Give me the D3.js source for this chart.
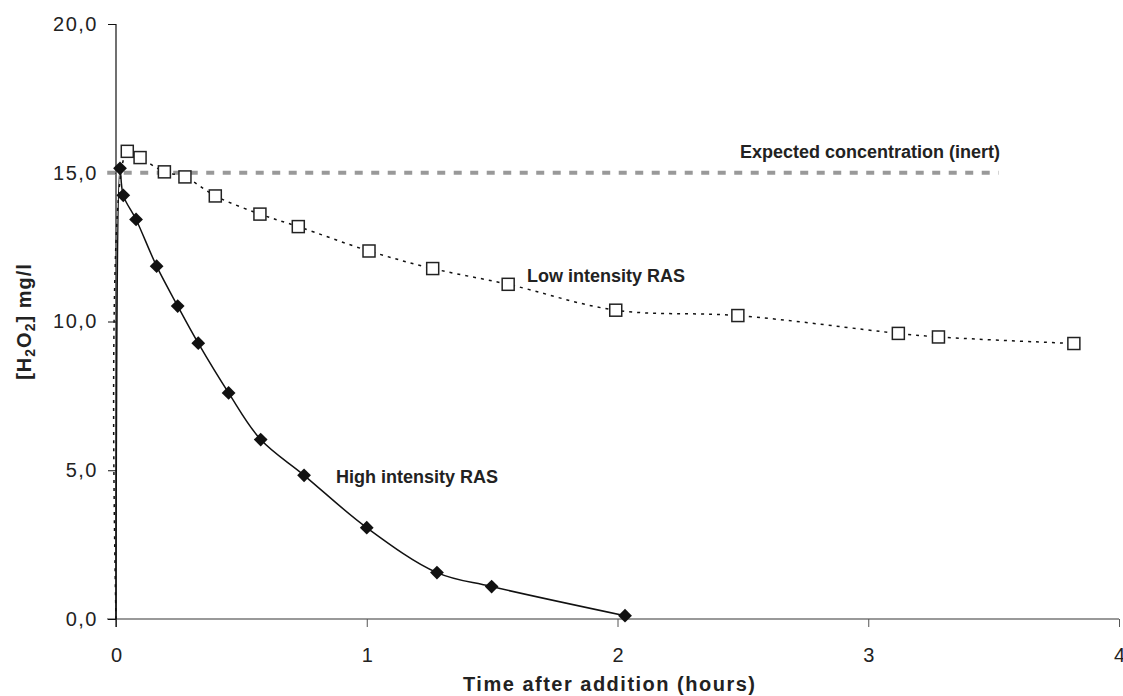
<!DOCTYPE html>
<html>
<head>
<meta charset="utf-8">
<script src="https://cdn.jsdelivr.net/npm/d3@7"></script>
<style>
  body { margin: 0; background: #fff; }
  text { font-family: "Liberation Sans", Arial, Helvetica, sans-serif; fill: #222; }
</style>
</head>
<body>
<svg id="chart"></svg>
<script>
// DATA
/***********************/
var highTime = [0, 0.016, 0.029, 0.08, 0.162, 0.246, 0.328, 0.449, 0.577, 0.75, 1.0, 1.28, 1.498, 2.03];
var highConc = [0, 15.15, 14.24, 13.43, 11.86, 10.52, 9.27, 7.60, 6.03, 4.83, 3.07, 1.56, 1.09, 0.11];

var lowTime = [0, 0.045, 0.096, 0.193, 0.275, 0.396, 0.574, 0.727, 1.009, 1.263, 1.564, 1.993, 2.48, 3.12, 3.28, 3.82];
var lowConc = [0, 15.72, 15.51, 15.03, 14.86, 14.22, 13.61, 13.19, 12.37, 11.78, 11.25, 10.38, 10.2, 9.6, 9.48, 9.26];

var expectedTime = [-0.035, 3.52];
var expectedConc = [15, 15];

var xTicks = [0, 1, 2, 3, 4];
var yTicks = [0, 5, 10, 15, 20];

// LAYOUT
/***********************/
var WIDTH = 1123,
    HEIGHT = 696;
var LEFT = 116, RIGHT = 1119, TOP = 24, BOTTOM = 619;

var x = d3.scaleLinear().domain([0, 4]).range([LEFT, RIGHT]);
var y = d3.scaleLinear().domain([0, 20]).range([BOTTOM, TOP]);

var locale = d3.formatLocale({decimal: ",", thousands: ".", grouping: [3], currency: ["", ""]});
var fmt = locale.format(".1f");

function zip(a, b) {
  return a.map(function(d, i) { return [d, b[i]]; });
}

var svg = d3.select("#chart")
    .attr("width", WIDTH)
    .attr("height", HEIGHT);

// axes
var xAxis = svg.append("g")
    .attr("transform", "translate(0," + BOTTOM + ")")
    .call(d3.axisBottom(x).tickValues(xTicks).tickSize(8).tickPadding(21).tickFormat(d3.format("d")));
xAxis.select(".domain").attr("stroke", "#777").attr("stroke-width", 1.5)
    .attr("d", "M" + (LEFT - 9) + ",0H" + RIGHT);
xAxis.selectAll(".tick line").attr("stroke", "#555");
xAxis.selectAll("text")
    .style("font-size", "20px")
    .attr("fill", "#222");

var yAxis = svg.append("g")
    .attr("transform", "translate(" + LEFT + ",0)")
    .call(d3.axisLeft(y).tickValues(yTicks).tickSize(8).tickPadding(10).tickFormat(fmt));
yAxis.select(".domain").attr("stroke", "#111").attr("stroke-width", 1.2)
    .attr("d", "M0," + TOP + "V" + (BOTTOM + 8));
yAxis.selectAll(".tick line").attr("stroke", "#111");
yAxis.selectAll("text")
    .style("font-size", "20px")
    .style("letter-spacing", "1.5px")
    .attr("fill", "#222");

// axis titles
svg.append("text")
    .attr("x", 463)
    .attr("y", 691)
    .style("font-size", "20px")
    .style("font-weight", "bold")
    .style("letter-spacing", "1.5px")
    .text("Time after addition (hours)");

var yTitle = svg.append("text")
    .attr("transform", "translate(31," + ((TOP + BOTTOM) / 2) + ")rotate(-90)")
    .attr("text-anchor", "middle")
    .style("font-size", "20px")
    .style("font-weight", "bold")
    .style("letter-spacing", "1px");
yTitle.append("tspan").text("[H");
yTitle.append("tspan").attr("dy", 4).style("font-size", "14px").text("2");
yTitle.append("tspan").attr("dy", -4).text("O");
yTitle.append("tspan").attr("dy", 4).style("font-size", "14px").text("2");
yTitle.append("tspan").attr("dy", -4).text("] mg/l");

// lines
var smooth = d3.line()
    .x(function(d) { return x(d[0]); })
    .y(function(d) { return y(d[1]); })
    .curve(d3.curveCatmullRom.alpha(0.5));

var straight = d3.line()
    .x(function(d) { return x(d[0]); })
    .y(function(d) { return y(d[1]); });

svg.append("path")
    .datum(zip(expectedTime, expectedConc))
    .attr("d", straight)
    .attr("fill", "none")
    .attr("stroke", "#999")
    .attr("stroke-width", 4)
    .attr("stroke-dasharray", "8,8.5");

svg.append("path")
    .datum(zip(lowTime, lowConc))
    .attr("d", smooth)
    .attr("fill", "none")
    .attr("stroke", "#111")
    .attr("stroke-width", 1.5)
    .attr("stroke-dasharray", "3,5");

svg.append("path")
    .datum(zip(highTime, highConc))
    .attr("d", smooth)
    .attr("fill", "none")
    .attr("stroke", "#111")
    .attr("stroke-width", 1.5);

// markers (first point at origin carries no marker)
var lowPts = zip(lowTime, lowConc).slice(1);
svg.append("g").selectAll("rect")
    .data(lowPts)
    .enter().append("rect")
    .attr("x", function(d) { return x(d[0]) - 6; })
    .attr("y", function(d) { return y(d[1]) - 6; })
    .attr("width", 12)
    .attr("height", 12)
    .attr("fill", "#fff")
    .attr("stroke", "#222")
    .attr("stroke-width", 1.5);

var diamond = d3.symbol().type(d3.symbolSquare).size(95);
var highPts = zip(highTime, highConc).slice(1);
svg.append("g").selectAll("path")
    .data(highPts)
    .enter().append("path")
    .attr("d", diamond)
    .attr("transform", function(d) { return "translate(" + x(d[0]) + "," + y(d[1]) + ")rotate(45)"; })
    .attr("fill", "#111");

// series labels
svg.append("text")
    .attr("x", 1000).attr("y", 158)
    .attr("text-anchor", "end")
    .style("font-size", "18px").style("font-weight", "bold")
    .text("Expected concentration (inert)");

svg.append("text")
    .attr("x", 527).attr("y", 282)
    .style("font-size", "18px").style("font-weight", "bold")
    .text("Low intensity RAS");

svg.append("text")
    .attr("x", 336).attr("y", 483)
    .style("font-size", "18px").style("font-weight", "bold")
    .text("High intensity RAS");
</script>
</body>
</html>
